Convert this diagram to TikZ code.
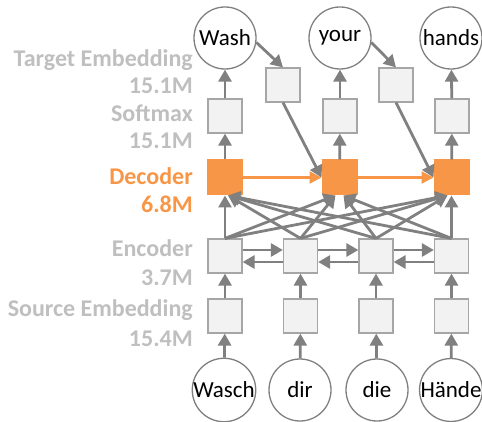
\documentclass[tikz,border=0pt]{standalone}
\usepackage{fontspec}
\setmainfont{Carlito}[BoldFont={Carlito Bold}]
\usetikzlibrary{arrows.meta}
\definecolor{arrgray}{HTML}{808080}
\definecolor{boxfill}{HTML}{F2F2F2}
\definecolor{boxline}{HTML}{A6A6A6}
\definecolor{ringgray}{HTML}{7F7F7F}
\definecolor{decorange}{HTML}{F79646}
\definecolor{labgray}{HTML}{BFBFBF}
\begin{document}
\begin{tikzpicture}[x=1pt,y=-1pt,
  cell/.style={draw=boxline, fill=boxfill, line width=1.2pt, minimum size=34pt, inner sep=0pt},
  decbox/.style={draw=decorange, fill=decorange, line width=1pt, minimum size=35pt, inner sep=0pt},
  word/.style={circle, draw=ringgray, line width=1.3pt, minimum size=62pt, inner sep=0pt,
    font=\fontsize{23}{23}\selectfont},
  lab/.style={anchor=base east, inner sep=0pt, text=labgray, font=\bfseries\fontsize{24}{24}\selectfont},
  flow/.style={draw=arrgray, line width=2.8pt, -{Triangle[length=12pt,width=13pt]}},
  oflow/.style={draw=decorange, line width=2.2pt, -{Triangle[length=12pt,width=12pt]}}]
\useasboundingbox (0,0) rectangle (482,422);

% layer labels
\node[lab] (l1) at (193,67) {Target Embedding};
\node[lab] (l2) at (193,94) {15.1M};
\node[lab] (l3) at (193,122) {Softmax};
\node[lab] (l4) at (193,149) {15.1M};
\node[lab, text=decorange] (l5) at (193,185) {Decoder};
\node[lab, text=decorange] (l6) at (193,213) {6.8M};
\node[lab] (l7) at (193,256) {Encoder};
\node[lab] (l8) at (193,285) {3.7M};
\node[lab] (l9) at (193,316) {Source Embedding};
\node[lab] (l10) at (193,346) {15.4M};

% target words
\node[word] (w1) at (225,38) {Wash};
\node[word] (w2) at (340,38) {your};
\node[word] (w3) at (451,38) {hands};

% softmax and target embedding cells
\node[cell] (sm1) at (225,116) {};
\node[cell] (sm2) at (340,116) {};
\node[cell] (sm3) at (452,116) {};
\node[cell] (te1) at (283,85) {};
\node[cell] (te2) at (396,85) {};

% decoder
\node[decbox] (d1) at (225,177.5) {};
\node[decbox] (d2) at (339.5,177.5) {};
\node[decbox] (d3) at (451.5,177.5) {};

% encoder
\node[cell] (e1) at (225,256) {};
\node[cell] (e2) at (300.5,256) {};
\node[cell] (e3) at (376,256) {};
\node[cell] (e4) at (451.5,256) {};

% source embedding
\node[cell] (s1) at (225,316) {};
\node[cell] (s2) at (300.5,316) {};
\node[cell] (s3) at (376,316) {};
\node[cell] (s4) at (451.5,316) {};

% source words
\node[word] (c1) at (224,390) {Wasch};
\node[word] (c2) at (300,390) {dir};
\node[word] (c3) at (377,390) {die};
\node[word] (c4) at (451,390) {Hände};

% source side
\foreach \i in {1,...,4} {
  \draw[flow] (c\i) -- (s\i);
  \draw[flow] (s\i) -- (e\i);
}
% bidirectional encoder
\foreach \i/\j in {1/2,2/3,3/4} {
  \draw[flow] ([yshift=6pt]e\i.east) -- ([yshift=6pt]e\j.west);
  \draw[flow] ([yshift=-6pt]e\j.west) -- ([yshift=-6pt]e\i.east);
}

% encoder to decoder
\draw[flow] (e1.north) -- (d1.south);
\foreach \i in {2,3,4} \draw[flow] (e\i.north) -- ([xshift=3pt]d1.south);
\foreach \i in {1,2} \draw[flow] (e\i.north) -- ([xshift=-4pt]d2.south);
\foreach \i in {3,4} \draw[flow] (e\i.north) -- ([xshift=4pt]d2.south);
\foreach \i in {1,2,3} \draw[flow] (e\i.north) -- ([xshift=-4pt]d3.south);
\draw[flow] (e4.north) -- (d3.south);

% decoder recurrence
\draw[oflow] (d1) -- (d2);
\draw[oflow] (d2) -- (d3);

% target side
\foreach \i in {1,2,3} {
  \draw[flow] (d\i) -- (sm\i);
  \draw[flow] (sm\i) -- (w\i);
}
\draw[flow] (w1.-8) -- (te1.north);
\draw[flow] (w2.-8) -- (te2.north);
\draw[flow] (te1.south) -- (d2.west);
\draw[flow] (te2.south) -- (d3.west);
\end{tikzpicture}
\end{document}
